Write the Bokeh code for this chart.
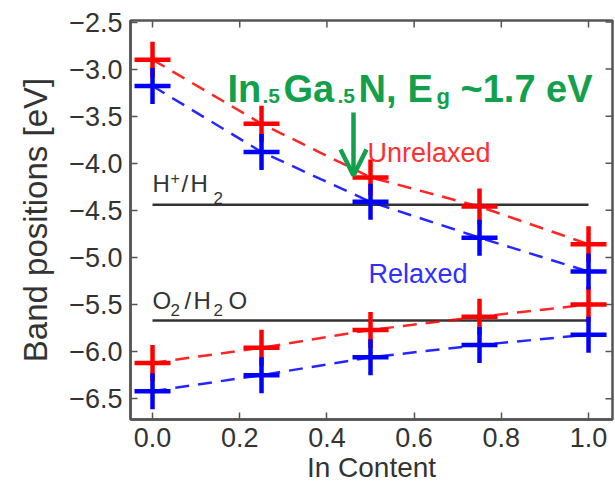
from bokeh.plotting import figure
from bokeh.models import Range1d, FixedTicker, Label, Arrow, OpenHead
from bokeh.embed import file_html
from bokeh.resources import INLINE

# ---- data -------------------------------------------------------------
in_content = [0.0, 0.25, 0.5, 0.75, 1.0]
cb_unrelaxed = [-2.90, -3.58, -4.15, -4.46, -4.86]
cb_relaxed = [-3.18, -3.88, -4.41, -4.79, -5.15]
vb_unrelaxed = [-6.12, -5.96, -5.77, -5.63, -5.50]
vb_relaxed = [-6.42, -6.25, -6.06, -5.93, -5.82]

h_level = -4.44      # H+/H2 redox level
o_level = -5.67      # O2/H2O redox level
level_span = [0.0, 1.0]

x_ticks = [0.0, 0.2, 0.4, 0.6, 0.8, 1.0]
y_ticks = [-2.5, -3.0, -3.5, -4.0, -4.5, -5.0, -5.5, -6.0, -6.5]

# ---- layout -----------------------------------------------------------
W, H = 615, 487
FL, FR, FT, FB = 130, 612, 20, 419          # frame edges in pixels
X0, X1 = -0.0505, 1.055
Y0, Y1 = -6.721, -2.484
TICK = 7                                    # inward tick length, px

FONT = "Liberation Sans"
INK = "#333333"
FRAME = "#555555"
RED = "#ff0000"
BLUE = "#0000ff"
GREEN = "#12a04c"


def dx(px):
    return X0 + (px - FL) / (FR - FL) * (X1 - X0)


def dy(py):
    return Y1 - (py - FT) / (FB - FT) * (Y1 - Y0)


p = figure(width=W, height=H, output_backend="svg", toolbar_location=None,
           x_range=Range1d(X0, X1), y_range=Range1d(Y0, Y1),
           min_border_left=FL, min_border_right=W - FR,
           min_border_top=FT, min_border_bottom=H - FB)
p.grid.visible = False
p.outline_line_color = FRAME
p.outline_line_width = 2.5
p.background_fill_color = "white"
p.border_fill_color = "white"

minus = "\u2212"
p.xaxis.ticker = FixedTicker(ticks=x_ticks)
p.yaxis.ticker = FixedTicker(ticks=y_ticks)
p.yaxis.major_label_overrides = {t: f"{t:.1f}".replace("-", minus) for t in y_ticks}
p.xaxis.major_label_overrides = {t: f"{t:.1f}" for t in x_ticks}

for ax in (p.xaxis[0], p.yaxis[0]):
    ax.axis_line_color = FRAME
    ax.axis_line_width = 2.5
    ax.major_tick_in = TICK
    ax.major_tick_out = 0
    ax.major_tick_line_color = FRAME
    ax.major_tick_line_width = 1.5
    ax.minor_tick_line_color = None
    ax.major_label_text_font = FONT
    ax.major_label_text_font_size = "27px"
    ax.major_label_text_color = INK
    ax.axis_label_text_font = FONT
    ax.axis_label_text_font_style = "normal"
    ax.axis_label_text_color = INK

p.xaxis.axis_label = "In Content"
p.xaxis.axis_label_text_font_size = "28px"
p.xaxis.major_label_standoff = 8
p.xaxis.axis_label_standoff = 2
p.yaxis.axis_label = "Band positions [eV]"
p.yaxis.axis_label_text_font_size = "33px"
p.yaxis.major_label_standoff = 8
p.yaxis.axis_label_standoff = 12

# mirrored tick marks along the top and right edges
p.segment(x0=x_ticks, y0=[Y1] * len(x_ticks), x1=x_ticks, y1=[dy(FT + TICK)] * len(x_ticks),
          line_color=FRAME, line_width=1.5)
p.segment(x0=[X1] * len(y_ticks), y0=y_ticks, x1=[dx(FR - TICK)] * len(y_ticks), y1=y_ticks,
          line_color=FRAME, line_width=1.5)

# ---- redox levels -----------------------------------------------------
for lvl in (h_level, o_level):
    p.line(level_span, [lvl, lvl], line_color=INK, line_width=2.5)

# ---- band edges -------------------------------------------------------
dash = "14 9"
p.line(in_content, cb_unrelaxed, line_color=RED, line_width=2.5, line_dash=dash, line_alpha=0.85)
p.line(in_content, vb_unrelaxed, line_color=RED, line_width=2.5, line_dash=dash, line_alpha=0.85)
p.line(in_content, cb_relaxed, line_color=BLUE, line_width=2.5, line_dash=dash, line_alpha=0.85)
p.line(in_content, vb_relaxed, line_color=BLUE, line_width=2.5, line_dash=dash, line_alpha=0.85)

for ys, col in ((cb_unrelaxed, RED), (vb_unrelaxed, RED), (cb_relaxed, BLUE), (vb_relaxed, BLUE)):
    p.scatter(in_content, ys, marker="cross", size=36, line_color=col, line_width=4.5)


# ---- text annotations -------------------------------------------------
def put(text, px, py, size, color, bold=False, align="left"):
    p.add_layout(Label(x=dx(px), y=dy(py), text=text, text_font=FONT,
                       text_font_size=f"{size}px", text_color=color,
                       text_font_style="bold" if bold else "normal",
                       text_align=align, text_baseline="alphabetic"))


# H+/H2
put("H", 152, 183, 24, INK)
put("+", 170, 177, 16, INK)
put("/", 181, 183, 24, INK)
put("H", 190, 183, 24, INK)
put("2", 213, 197, 17, INK)

# O2/H2O
put("O", 152, 300, 24, INK)
put("2", 170, 309, 17, INK)
put("/", 184, 300, 24, INK)
put("H", 193, 300, 24, INK)
put("2", 213, 309, 17, INK)
put("O", 228, 300, 24, INK)

put("Unrelaxed", 367, 152, 27, "#ff3030")
put("Relaxed", 368, 273, 27, "#3030ff")

# In.5Ga.5N, Eg ~1.7 eV
put("In", 227, 88, 38, GREEN, True)
put(".5", 262, 95, 21, GREEN, True)
put("Ga", 283, 88, 38, GREEN, True)
put(".5", 337, 95, 21, GREEN, True)
put("N,", 358, 88, 38, GREEN, True)
put("E", 407, 88, 38, GREEN, True)
put("g", 436, 96, 22, GREEN, True)
put("~1.7 eV", 460, 88, 38, GREEN, True)

p.add_layout(Arrow(x_start=dx(353), y_start=dy(112), x_end=dx(353), y_end=dy(175),
                   line_color=GREEN, line_width=4.5,
                   end=OpenHead(size=26, line_color=GREEN, line_width=4.5)))

open("out.html", "w").write(file_html(p, INLINE))
